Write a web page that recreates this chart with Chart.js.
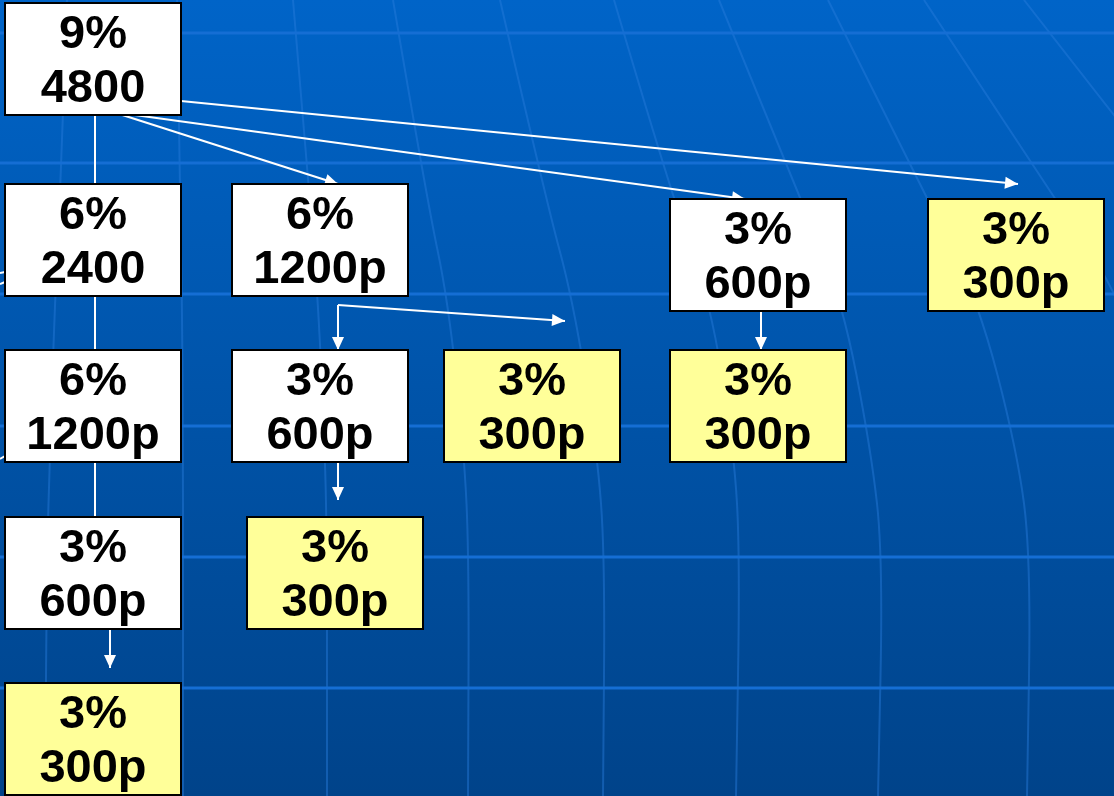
<!DOCTYPE html>
<html>
<head>
<meta charset="utf-8">
<script src="https://cdn.jsdelivr.net/npm/chart.js@4"></script>
<style>
  html, body { margin: 0; padding: 0; background: #0055aa; }
  #wrap { width: 1114px; height: 796px; position: relative; }
</style>
</head>
<body>
<div id="wrap"><canvas id="tree"></canvas></div>
<script>
// ====================
// DATA
// ====================
// boxes: percentage line, amount line, centre in page units
const pctText = ["9%", "6%", "6%", "3%", "3%", "6%", "3%", "3%", "3%", "3%", "3%", "3%"];
const amtText = ["4800", "2400", "1200p", "600p", "300p", "1200p", "600p", "300p", "300p", "600p", "300p", "300p"];
const nodeX   = [93, 93, 320, 758, 1016, 93, 320, 532, 758, 93, 335, 93];
const nodeY   = [59, 240, 240, 255, 255, 406, 406, 406, 406, 573, 573, 739];

// connectors (polylines) and whether they end in an arrow head
const linkPaths = [
  [[95, 115], [95, 184]],
  [[95, 296], [95, 350]],
  [[95, 462], [95, 517]],
  [[113, 112], [338, 184]],
  [[113, 112], [745, 199]],
  [[181, 101], [1018, 184]],
  [[338, 305], [338, 350]],
  [[338, 305], [565, 321]],
  [[761, 311], [761, 350]],
  [[338, 462], [338, 500]],
  [[110, 629], [110, 668]],
  [[0, 273], [5, 272]],
  [[0, 284], [5, 282]],
  [[0, 459], [5, 456]]
];
const linkHead = [false, false, false, true, true, true, true, true, true, true, true, false, false, false];

// background globe grid
const gridY = [33, 163, 294, 426, 557, 688];
const meridianY = [0, 200, 300, 450, 557, 796];
const meridianX = [
  [67, 60, 55, 50, 47, 45],
  [177, 180, 182, 183, 183, 183],
  [293, 310, 318, 325, 327, 327],
  [393, 427, 448, 464, 469, 468],
  [500, 546, 573, 597, 605, 603],
  [614, 673, 710, 734, 740, 736],
  [719, 801, 842, 871, 883, 878],
  [828, 928, 978, 1017, 1031, 1027],
  [924, 1056, 1122, 1170, 1190, 1190],
  [1024, 1180, 1260, 1300, 1320, 1320]
];

const BOX_W = 176, BOX_H = 112;

// ====================
// PLUGINS
// ====================
const backdrop = {
  id: "backdrop",
  beforeDraw(chart) {
    const { ctx, chartArea: a, scales: { x, y } } = chart;
    ctx.save();
    const g = ctx.createLinearGradient(0, a.top, 0, a.bottom);
    g.addColorStop(0, "#0064c8");
    g.addColorStop(1, "#00438a");
    ctx.fillStyle = g;
    ctx.fillRect(a.left, a.top, a.right - a.left, a.bottom - a.top);

    // meridians
    ctx.strokeStyle = "rgba(40,125,220,0.45)";
    ctx.lineWidth = 2;
    meridianX.forEach(xs => {
      const pts = xs.map((v, i) => [x.getPixelForValue(v), y.getPixelForValue(meridianY[i])]);
      ctx.beginPath();
      ctx.moveTo(pts[0][0], pts[0][1]);
      for (let i = 1; i < pts.length - 1; i++) {
        const mx = (pts[i][0] + pts[i + 1][0]) / 2;
        const my = (pts[i][1] + pts[i + 1][1]) / 2;
        ctx.quadraticCurveTo(pts[i][0], pts[i][1], mx, my);
      }
      const last = pts[pts.length - 1];
      ctx.lineTo(last[0], last[1]);
      ctx.stroke();
    });

    // parallels
    ctx.strokeStyle = "#156ed4";
    ctx.lineWidth = 3;
    gridY.forEach(v => {
      const py = y.getPixelForValue(v);
      ctx.beginPath();
      ctx.moveTo(a.left, py);
      ctx.lineTo(a.right, py);
      ctx.stroke();
    });
    ctx.restore();
  }
};

const boxes = {
  id: "boxes",
  afterDatasetsDraw(chart) {
    const { ctx } = chart;

    // arrow heads on connectors
    chart.data.datasets.forEach((ds, di) => {
      if (!ds.arrow) return;
      const pts = chart.getDatasetMeta(di).data;
      const p1 = pts[pts.length - 2], p2 = pts[pts.length - 1];
      const ang = Math.atan2(p2.y - p1.y, p2.x - p1.x);
      ctx.save();
      ctx.translate(p2.x, p2.y);
      ctx.rotate(ang);
      ctx.fillStyle = "#ffffff";
      ctx.beginPath();
      ctx.moveTo(0, 0);
      ctx.lineTo(-13, -6);
      ctx.lineTo(-13, 6);
      ctx.closePath();
      ctx.fill();
      ctx.restore();
    });

    // boxes with labels
    const meta = chart.getDatasetMeta(0);
    meta.data.forEach((pt, i) => {
      const left = pt.x - BOX_W / 2, top = pt.y - BOX_H / 2;
      ctx.save();
      ctx.fillStyle = amtText[i] === "300p" ? "#ffff99" : "#ffffff";
      ctx.fillRect(left, top, BOX_W, BOX_H);
      ctx.strokeStyle = "#000000";
      ctx.lineWidth = 2;
      ctx.strokeRect(left, top, BOX_W, BOX_H);
      ctx.fillStyle = "#000000";
      ctx.font = "bold 47px 'Liberation Sans', Arial, sans-serif";
      ctx.textAlign = "center";
      ctx.textBaseline = "alphabetic";
      ctx.fillText(pctText[i], pt.x, pt.y - 11);
      ctx.fillText(amtText[i], pt.x, pt.y + 43);
      ctx.restore();
    });
  }
};

// ====================
// BUILD CHART
// ====================
const nodeSet = {
  label: "nodes",
  data: nodeX.map((v, i) => ({ x: v, y: nodeY[i] })),
  pointRadius: 0,
  showLine: false
};

const linkSets = linkPaths.map((path, i) => ({
  label: "link" + i,
  data: path.map(p => ({ x: p[0], y: p[1] })),
  showLine: true,
  borderColor: "#ffffff",
  borderWidth: 2,
  pointRadius: 0,
  arrow: linkHead[i],
  clip: false
}));

new Chart(document.getElementById("tree"), {
  type: "scatter",
  data: { datasets: [nodeSet, ...linkSets] },
  options: {
    responsive: true,
    maintainAspectRatio: false,
    animation: false,
    layout: { padding: 0 },
    scales: {
      x: { type: "linear", min: 0, max: 1114, display: false },
      y: { type: "linear", min: 0, max: 796, reverse: true, display: false }
    },
    plugins: {
      legend: { display: false },
      tooltip: { enabled: false }
    }
  },
  plugins: [backdrop, boxes]
});
</script>
</body>
</html>
